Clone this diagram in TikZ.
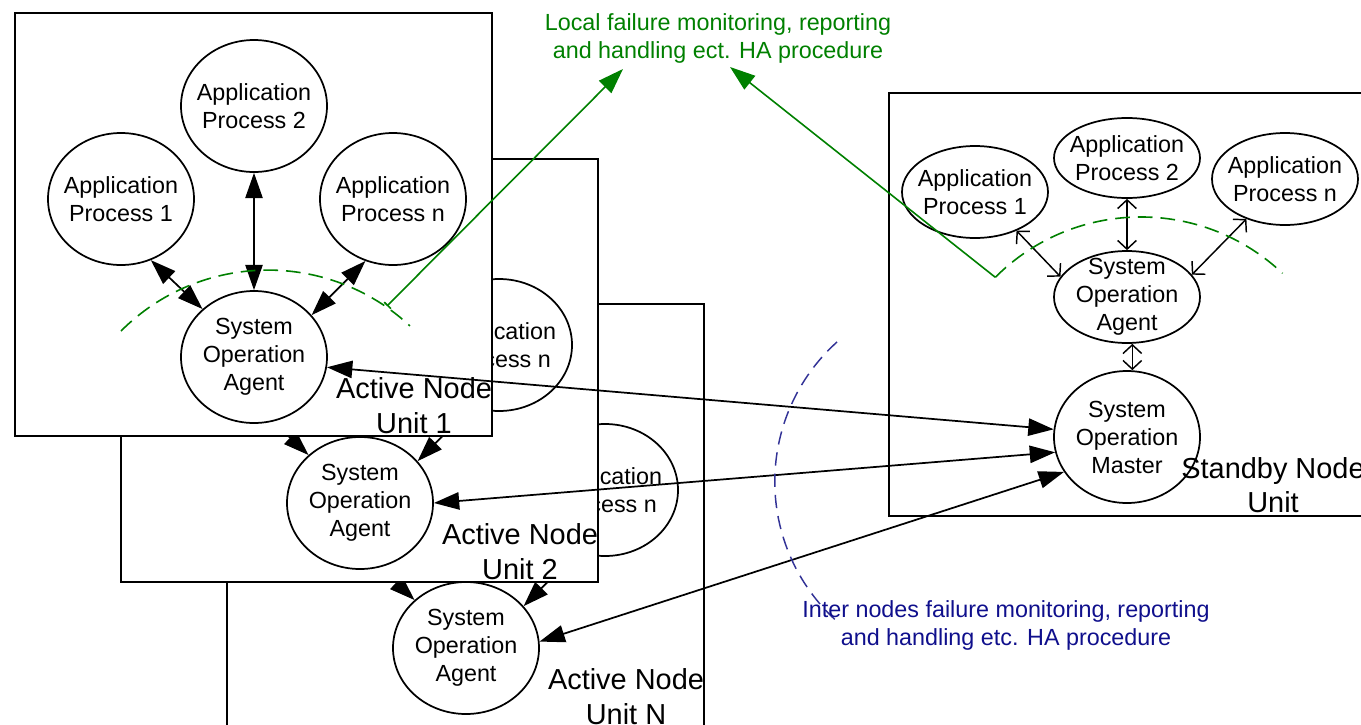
\documentclass[tikz,border=0pt]{standalone}
\usepackage{fontspec}
\setmainfont{Liberation Sans}
\usetikzlibrary{arrows.meta,shapes.geometric}
\definecolor{lgreen}{RGB}{0,128,0}
\definecolor{dblue}{RGB}{15,15,140}
\definecolor{dashblue}{RGB}{50,50,150}
\tikzset{
  ell/.style={ellipse, draw, line width=1.3pt, inner sep=-8pt, align=center,
    font=\fontsize{17.5pt}{21pt}\selectfont, minimum width=109.5pt, minimum height=99pt},
  unitbox/.style={rectangle, draw, fill=white, line width=2.2pt,
    minimum width=357.75pt, minimum height=317.25pt, inner sep=0pt},
  unitlabel/.style={anchor=base, inner sep=0pt, font=\fontsize{21.7pt}{26pt}\selectfont},
  bigarrow/.style={line width=1.3pt, <->, >={Triangle[length=19pt,width=13pt]}},
  openarrow/.style={line width=1.1pt, <->, >={Straight Barb[length=6.5pt,width=14pt]}},
  greenline/.style={lgreen, line width=1.2pt},
  greendash/.style={lgreen, line width=1.2pt, dash pattern=on 11pt off 6pt},
  bluedash/.style={dashblue, line width=1.1pt, dash pattern=on 10pt off 6pt},
  note/.style={anchor=base, inner sep=0pt, font=\fontsize{17.5pt}{21pt}\selectfont},
  pics/nodeunit/.style={code={
    \node[unitbox] (-box) at (253.5,224.5) {};
    \node[ell] (-ap2) at (254,106) {Application\\Process 2};
    \node[ell] (-ap1) at (121,199) {Application\\Process 1};
    \node[ell] (-apn) at (393,199) {Application\\Process n};
    \node[ell] (-soa) at (254,357) {System\\Operation\\Agent};
    \draw[bigarrow] (-ap1.-64) -- (-soa.137);
    \draw[bigarrow] (-ap2.south) -- (-soa.north);
    \draw[bigarrow] (-apn.246) -- (-soa.36);
    \node[unitlabel] (-l1) at (414,398) {Active Node};
    \node[unitlabel] (-l2) at (414,433) {Unit #1};
  }}
}
\begin{document}
\begin{tikzpicture}[x=0.75pt,y=-0.75pt]
\useasboundingbox (0,0) rectangle (1361,725);
\clip (0,0) rectangle (1361,725);

% active node units (back to front)
\pic (uN) at (212,291) {nodeunit=N};
\pic (u2) at (106,146) {nodeunit=2};
\pic (u1) at (0,0) {nodeunit=1};

% standby node unit
\node[unitbox, minimum width=364.5pt] (sbox) at (1132,304.5) {};
\node[ell, minimum height=60pt] (sap2) at (1127,158) {Application\\Process 2};
\node[ell, minimum height=69pt] (sap1) at (975,192) {Application\\Process 1};
\node[ell, minimum height=69pt] (sapn) at (1285,179) {Application\\Process n};
\node[ell, minimum height=69pt] (ssoa) at (1127,297) {System\\Operation\\Agent};
\node[ell] (smaster) at (1127,437) {System\\Operation\\Master};
\draw[openarrow] (sap1.-43) -- (ssoa.163);
\draw[openarrow] (sap2.south) -- (ssoa.north);
\draw[openarrow] (sapn.226) -- (ssoa.19);
\draw[openarrow] ([xshift=4pt]ssoa.south) -- ([xshift=4pt]smaster.north);
\node[unitlabel] (sl1) at (1273,478) {Standby Node};
\node[unitlabel] (sl2) at (1273,512) {Unit};

% inter-node arrows
\draw[bigarrow] (u1-soa.-8.5) -- (smaster.174.6);
\draw[bigarrow] (u2-soa.0) -- (smaster.192.5);
\draw[bigarrow] (uN-soa.5) -- (smaster.209);

% local HA (green)
\draw[greendash] (121,331) arc[start angle=225, end angle=313, radius=208];
\draw[greendash] (995.3,277.3) arc[start angle=225, end angle=313.4, radius=206];
\coordinate (gA) at (387,306);
\coordinate (gtipL) at (623,69);
\coordinate (gB) at (995.3,277.3);
\coordinate (gtipR) at (730,67);
\draw[greenline, {Bar[width=7pt]}-{Triangle[length=19pt,width=13pt]}] (gA) -- (gtipL);
\draw[greenline, -{Triangle[length=19pt,width=13pt]}] (gB) -- (gtipR);
\node[note, text=lgreen] (gt1) at (718,30) {Local failure monitoring, reporting};
\node[note, text=lgreen] (gt2) at (718,58) {and handling ect. HA procedure};

% inter-node HA (blue)
\draw[bluedash] (837,342) arc[start angle=228, end angle=132, radius=188];
\node[note, text=dblue] (bt1) at (1006,617) {Inter nodes failure monitoring, reporting};
\node[note, text=dblue] (bt2) at (1006,645) {and handling etc. HA procedure};
\end{tikzpicture}
\end{document}
